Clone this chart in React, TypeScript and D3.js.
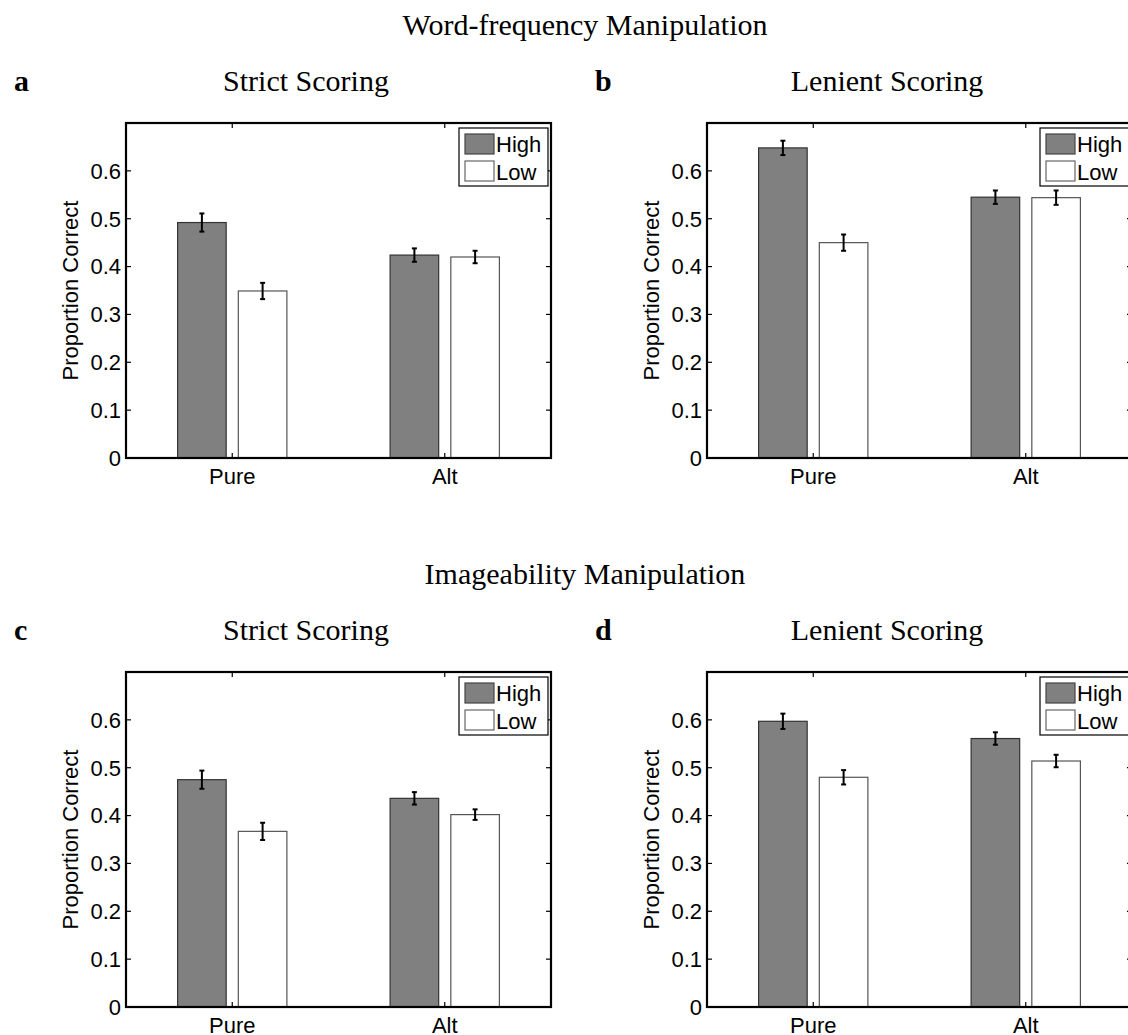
import * as d3 from "d3";
import { useEffect, useRef } from "react";

// categories and series
const groups = ["Pure", "Alt"];
const seriesNames = ["High", "Low"];
const yTicks = [0, 0.1, 0.2, 0.3, 0.4, 0.5, 0.6];

// a: word frequency, strict scoring
const wfStrictHigh = [0.492, 0.424];
const wfStrictHighErr = [0.019, 0.014];
const wfStrictLow = [0.349, 0.42];
const wfStrictLowErr = [0.017, 0.013];

// b: word frequency, lenient scoring
const wfLenientHigh = [0.648, 0.545];
const wfLenientHighErr = [0.015, 0.014];
const wfLenientLow = [0.45, 0.544];
const wfLenientLowErr = [0.017, 0.015];

// c: imageability, strict scoring
const imStrictHigh = [0.475, 0.436];
const imStrictHighErr = [0.019, 0.013];
const imStrictLow = [0.367, 0.402];
const imStrictLowErr = [0.018, 0.011];

// d: imageability, lenient scoring
const imLenientHigh = [0.597, 0.561];
const imLenientHighErr = [0.016, 0.013];
const imLenientLow = [0.48, 0.514];
const imLenientLowErr = [0.015, 0.013];

const panels = [
    { letter: "a", title: "Strict Scoring", x: 126, y: 123, high: wfStrictHigh, highErr: wfStrictHighErr, low: wfStrictLow, lowErr: wfStrictLowErr },
    { letter: "b", title: "Lenient Scoring", x: 707, y: 123, high: wfLenientHigh, highErr: wfLenientHighErr, low: wfLenientLow, lowErr: wfLenientLowErr },
    { letter: "c", title: "Strict Scoring", x: 126, y: 672, high: imStrictHigh, highErr: imStrictHighErr, low: imStrictLow, lowErr: imStrictLowErr },
    { letter: "d", title: "Lenient Scoring", x: 707, y: 672, high: imLenientHigh, highErr: imLenientHighErr, low: imLenientLow, lowErr: imLenientLowErr },
];

const SERIF = "'Liberation Serif', 'Times New Roman', serif";
const SANS = "'Liberation Sans', Arial, Helvetica, sans-serif";
const fills = ["#808080", "#ffffff"];
const edges = ["#333333", "#555555"];

function App() {
    const ref = useRef<SVGSVGElement>(null);

    useEffect(() => {
        const svg = d3.select(ref.current);
        svg.selectAll("*").remove();

        const width = 425, height = 335;

        // section titles
        svg.append("text").attr("x", 585).attr("y", 35).attr("text-anchor", "middle")
            .style("font-family", SERIF).style("font-size", "30px").text("Word-frequency Manipulation");
        svg.append("text").attr("x", 585).attr("y", 584).attr("text-anchor", "middle")
            .style("font-family", SERIF).style("font-size", "30px").text("Imageability Manipulation");

        const x = d3.scaleLinear().domain([0.5, 2.5]).range([0, width]);
        const y = d3.scaleLinear().domain([0, 0.7]).range([height, 0]);

        // MATLAB grouped bar geometry
        const offsets = [-1 / 7, 1 / 7];
        const barW = x(0.5 + 0.2286) - x(0.5);

        panels.forEach((p) => {
            const g = svg.append("g").attr("transform", "translate(" + p.x + "," + p.y + ")");

            // panel letter and title
            svg.append("text").attr("x", p.x - 112).attr("y", p.y - 32)
                .style("font-family", SERIF).style("font-size", "30px").style("font-weight", "bold").text(p.letter);
            svg.append("text").attr("x", p.x + 180).attr("y", p.y - 32).attr("text-anchor", "middle")
                .style("font-family", SERIF).style("font-size", "30px").text(p.title);

            const values = [p.high, p.low];
            const errs = [p.highErr, p.lowErr];

            values.forEach((vals, s) => {
                g.selectAll(".bar" + s)
                    .data(vals)
                    .enter()
                    .append("rect")
                    .attr("x", (d, i) => x(i + 1 + offsets[s]) - barW / 2)
                    .attr("y", (d) => y(d))
                    .attr("width", barW)
                    .attr("height", (d) => y(0) - y(d))
                    .style("fill", fills[s])
                    .style("stroke", edges[s])
                    .style("stroke-width", 1.2);

                // error bars
                vals.forEach((v, i) => {
                    const cx = x(i + 1 + offsets[s]);
                    const e = errs[s][i];
                    g.append("line").attr("x1", cx).attr("x2", cx).attr("y1", y(v - e)).attr("y2", y(v + e))
                        .style("stroke", "#000").style("stroke-width", 2);
                    [v - e, v + e].forEach((t) => {
                        g.append("line").attr("x1", cx - 2.5).attr("x2", cx + 2.5).attr("y1", y(t)).attr("y2", y(t))
                            .style("stroke", "#000").style("stroke-width", 2);
                    });
                });
            });

            // box and inward ticks
            g.append("rect").attr("width", width).attr("height", height)
                .style("fill", "none").style("stroke", "#000").style("stroke-width", 2.2);

            yTicks.forEach((t) => {
                g.append("line").attr("x1", 0).attr("x2", 5).attr("y1", y(t)).attr("y2", y(t)).style("stroke", "#000").style("stroke-width", 1.2);
                g.append("line").attr("x1", width - 5).attr("x2", width).attr("y1", y(t)).attr("y2", y(t)).style("stroke", "#000").style("stroke-width", 1.2);
                g.append("text").attr("x", -5).attr("y", y(t)).attr("dy", "0.36em").attr("text-anchor", "end")
                    .style("font-family", SANS).style("font-size", "22px").text(String(t));
            });
            groups.forEach((name, i) => {
                const tx = x(i + 1);
                g.append("line").attr("x1", tx).attr("x2", tx).attr("y1", height).attr("y2", height - 5).style("stroke", "#000").style("stroke-width", 1.2);
                g.append("line").attr("x1", tx).attr("x2", tx).attr("y1", 0).attr("y2", 5).style("stroke", "#000").style("stroke-width", 1.2);
                g.append("text").attr("x", tx).attr("y", height + 26).attr("text-anchor", "middle")
                    .style("font-family", SANS).style("font-size", "22px").text(name);
            });

            // y label
            g.append("text").attr("transform", "translate(-48," + height / 2 + ") rotate(-90)")
                .attr("text-anchor", "middle")
                .style("font-family", SANS).style("font-size", "22px").text("Proportion Correct");

            // legend
            const lg = g.append("g").attr("transform", "translate(" + (width - 92) + ",5)");
            lg.append("rect").attr("width", 89).attr("height", 58)
                .style("fill", "#fff").style("stroke", "#000").style("stroke-width", 1.2);
            seriesNames.forEach((name, s) => {
                lg.append("rect").attr("x", 6).attr("y", 6 + s * 27).attr("width", 29).attr("height", 20)
                    .style("fill", fills[s]).style("stroke", s === 0 ? "#444" : "#666").style("stroke-width", 1.2);
                lg.append("text").attr("x", 37).attr("y", 24 + s * 28)
                    .style("font-family", SANS).style("font-size", "22px").text(name);
            });
        });
    }, []);

    return (
        <div style={{ position: "absolute", left: 0, top: 0 }}>
            <svg ref={ref} width={1128} height={1035} style={{ display: "block", background: "#fff" }}></svg>
        </div>
    );
}

export default App;
